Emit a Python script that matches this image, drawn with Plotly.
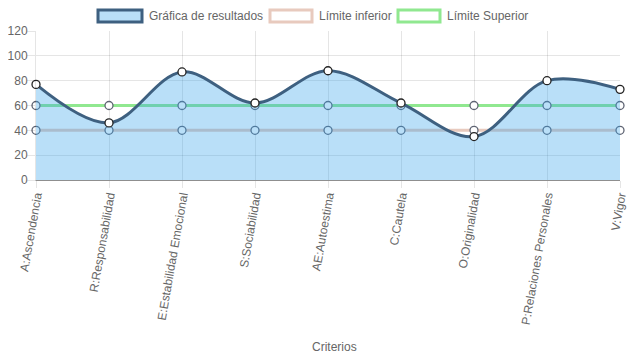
import plotly.graph_objects as go

categorias = ["A:Ascendencia", "R:Responsabilidad", "E:Estabilidad Emocional", "S:Sociabilidad",
              "AE:Autoestima", "C:Cautela", "O:Originalidad", "P:Relaciones Personales", "V:Vigor"]
resultados = [77, 46, 87, 62, 88, 62, 35, 80, 73]
limite_inferior = [40, 40, 40, 40, 40, 40, 40, 40, 40]
limite_superior = [60, 60, 60, 60, 60, 60, 60, 60, 60]
y_ticks = [0, 20, 40, 60, 80, 100, 120]

FONT = "Liberation Sans, Arial, Helvetica, sans-serif"
GREY = "#666666"

fig = go.Figure()

limit_marker = dict(size=8, color="white", line=dict(color="rgb(95,100,115)", width=1.3))
result_marker = dict(size=8, color="white", line=dict(color="rgb(35,35,35)", width=1.3))

fig.add_trace(go.Scatter(x=categorias, y=limite_inferior, mode="lines+markers", name="Límite inferior",
                         line=dict(color="rgb(232,202,190)", width=3), marker=limit_marker,
                         cliponaxis=False, showlegend=False))
fig.add_trace(go.Scatter(x=categorias, y=limite_superior, mode="lines+markers", name="Límite Superior",
                         line=dict(color="rgb(144,232,144)", width=3), marker=limit_marker,
                         cliponaxis=False, showlegend=False))
fig.add_trace(go.Scatter(x=categorias, y=resultados, mode="lines+markers", name="Gráfica de resultados",
                         line=dict(color="rgb(62,96,128)", width=3, shape="spline", smoothing=1.0),
                         fill="tozeroy", fillcolor="rgba(54,162,235,0.35)",
                         marker=result_marker, cliponaxis=False, showlegend=False))

# page offset (body margin) compensation; visible page area is x 8..629
OX, OY = 8, 8
PL, PR, PT, PB = 36, 620, 31, 180  # plot area in page pixels
PW, PH = PR - PL, PB - PT

legend_items = [
    (98, 142, "rgba(54,162,235,0.35)", "rgb(62,96,128)", "Gráfica de resultados", 147),
    (270, 312, "white", "rgb(232,202,190)", "Límite inferior", 317),
    (398, 440, "white", "rgb(144,232,144)", "Límite Superior", 445),
]
for x0, x1, fc, lc, txt, tx in legend_items:
    fig.add_shape(type="rect", xref="paper", yref="paper",
                  x0=(x0 - PL) / PW, x1=(x1 - PL) / PW,
                  y0=(PB - 22) / PH, y1=(PB - 10) / PH,
                  fillcolor=fc, line=dict(color=lc, width=3))
    fig.add_annotation(xref="paper", yref="paper", x=(tx - PL) / PW, y=(PB - 16) / PH,
                       text=txt, showarrow=False, xanchor="left", yanchor="middle",
                       font=dict(family=FONT, size=12, color=GREY))

fig.add_annotation(xref="paper", yref="paper", x=(334 - PL) / PW, y=(PB - 347) / PH, text="Criterios",
                   showarrow=False, xanchor="center", yanchor="middle",
                   font=dict(family=FONT, size=12, color=GREY))

W, H = 637 - 2 * OX, 359 - OY
fig.update_layout(
    width=W, height=H,
    margin=dict(l=PL - OX, r=W - (PR - OX), t=PT - OY, b=H - (PB - OY), autoexpand=False),
    paper_bgcolor="white", plot_bgcolor="white",
    font=dict(family=FONT, size=12, color=GREY),
    showlegend=False,
    hovermode=False,
)
fig.update_xaxes(
    type="category", range=[0, len(categorias) - 1], tickangle=-80,
    showgrid=True, gridcolor="rgba(0,0,0,0.1)", gridwidth=1,
    ticks="outside", ticklen=7, tickcolor="rgba(0,0,0,0.1)", ticklabelstandoff=-4,
    showline=True, linecolor="rgba(0,0,0,0.25)", linewidth=1,
    tickfont=dict(family=FONT, size=12, color=GREY), automargin=False,
)
fig.update_yaxes(
    range=[0, 120], tickvals=y_ticks,
    showgrid=True, gridcolor="rgba(0,0,0,0.1)", gridwidth=1,
    zeroline=True, zerolinecolor="rgba(0,0,0,0.25)", zerolinewidth=1,
    ticks="outside", ticklen=8, tickcolor="rgba(0,0,0,0.1)", ticklabelstandoff=-3,
    showline=True, linecolor="rgba(0,0,0,0.1)", linewidth=1,
    tickfont=dict(family=FONT, size=12, color=GREY), automargin=False,
)

fig.write_html("out.html")
